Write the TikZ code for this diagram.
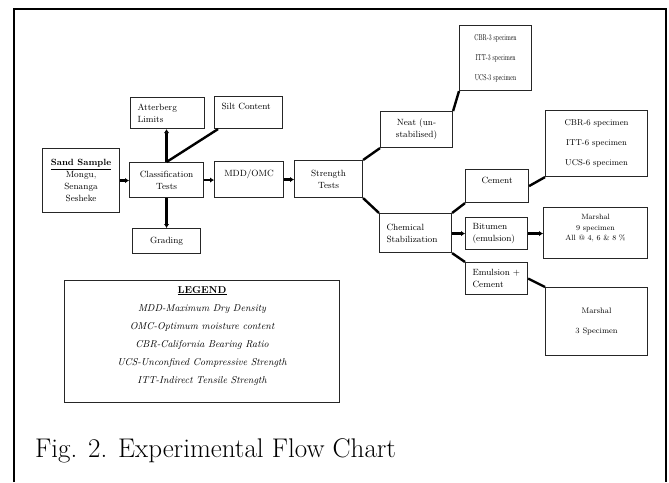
\documentclass[tikz,border=0pt]{standalone}
\usetikzlibrary{arrows.meta}
\newcommand{\narrowtxt}[1]{\scalebox{0.66}[1]{#1}}
\begin{document}
\begin{tikzpicture}[x=1pt,y=-1pt,
  box/.style={draw=black!85, line width=1.1pt, inner sep=0pt, anchor=north west,
    font=\fontsize{9}{12}\selectfont, align=center},
  lbox/.style={box, align=left, inner xsep=7pt},
  spec/.style={box, font=\fontsize{8.5}{20}\selectfont},
  conn/.style={line width=2.4pt},
  arr/.style={conn, -{Latex[length=4pt,width=5.5pt]}}]
\useasboundingbox (0,0) rectangle (669,482);
\draw[line width=2pt] (14,482) -- (14,9) -- (666,9) -- (666,482);

\node[box, minimum width=77pt, minimum height=64pt, font=\fontsize{9}{11.8}\selectfont] (sand) at (42,148)
  {\textbf{\underline{Sand Sample}}\\Mongu,\\Senanga\\Sesheke};
\node[box, minimum width=74pt, minimum height=35pt] (class) at (129,162) {Classification\\Tests};
\node[lbox, minimum width=74pt, minimum height=31pt, text width=60pt] (atter) at (130,97) {Atterberg\\Limits};
\node[lbox, minimum width=68pt, minimum height=32pt, text width=54pt] (silt) at (214,96) {Silt Content\\\phantom{X}};
\node[box, minimum width=68pt, minimum height=25pt] (grad) at (132,228) {Grading};
\node[box, minimum width=69pt, minimum height=36pt] (mdd) at (214,161) {MDD/OMC\\\phantom{X}};
\node[box, minimum width=68pt, minimum height=37pt] (str) at (294,160) {Strength\\Tests};
\node[box, minimum width=72pt, minimum height=36pt] (neat) at (380,111) {Neat (un-\\stabilised)};
\node[spec, minimum width=72pt, minimum height=65pt] (spec3) at (459,25)
  {\narrowtxt{CBR-3 specimen}\\\narrowtxt{ITT-3 specimen}\\\narrowtxt{UCS-3 specimen}};
\node[spec, minimum width=102pt, minimum height=66pt] (spec6) at (545,110)
  {CBR-6 specimen\\ITT-6 specimen\\UCS-6 specimen};
\node[lbox, minimum width=72pt, minimum height=39pt, text width=58pt] (chem) at (379,213) {Chemical\\Stabilization};
\node[box, minimum width=63pt, minimum height=33pt] (cement) at (465,169) {Cement\\\phantom{X}};
\node[lbox, minimum width=62pt, minimum height=32pt, text width=48pt] (bitumen) at (465,217) {Bitumen\\(emulsion)};
\node[box, minimum width=104pt, minimum height=51pt, font=\fontsize{7.6}{10.5}\selectfont] (marsh9) at (543,207)
  {Marshal\\9 specimen\\All @ 4, 6 \& 8 \%\\\phantom{X}};
\node[lbox, minimum width=62pt, minimum height=32pt, text width=48pt] (emul) at (465,262) {Emulsion +\\Cement};
\node[spec, minimum width=102pt, minimum height=68pt, font=\fontsize{8}{20}\selectfont] (marsh3) at (545,287) {Marshal\\3 Specimen};

\node[box, minimum width=275pt, minimum height=122pt, font=\fontsize{10}{18}\selectfont\itshape] (legend) at (64,280)
  {\mbox{\underline{\textbf{\upshape LEGEND}}}\\MDD-Maximum Dry Density\\OMC-Optimum moisture content\\CBR-California Bearing Ratio\\UCS-Unconfined Compressive Strength\\ITT-Indirect Tensile Strength\\[-4pt]\phantom{X}};

\node[anchor=base west, inner sep=0pt, font=\fontsize{27}{30}\selectfont] (cap) at (35,457) {Fig. 2. Experimental Flow Chart};

\draw[arr] (sand.east) -- (sand.east -| class.west);
\draw[arr] (class.east) -- (class.east -| mdd.west);
\draw[arr] (mdd.east) -- (mdd.east -| str.west);
\draw[arr] (class.north) -- (class.north |- atter.south);
\draw[conn] (class.north) -- ([xshift=4pt]silt.south west);
\draw[arr] (class.south) -- (class.south |- grad.north);
\draw[conn] (str.north east) -- (neat.south west);
\draw[conn] (str.south east) -- (chem.north west);
\draw[conn] (neat.north east) -- (spec3.south west);
\draw[conn] (cement.east) -- (spec6.south west);
\draw[conn] (chem.north east) -- (cement.south west);
\draw[arr] (bitumen.west -| chem.east) -- (bitumen.west);
\draw[arr] (bitumen.east) -- (bitumen.east -| marsh9.west);
\draw[conn] (chem.south east) -- (emul.north west);
\draw[conn] (emul.east) -- (marsh3.north west);
\end{tikzpicture}
\end{document}
